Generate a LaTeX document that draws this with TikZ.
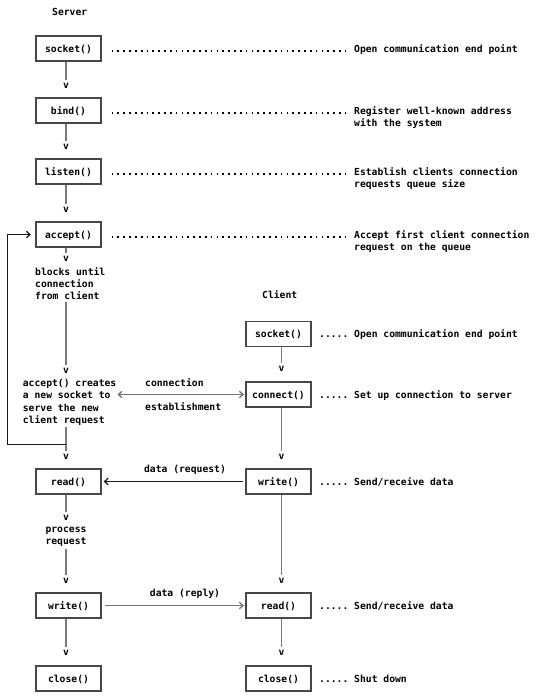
\documentclass[tikz,border=0pt]{standalone}
\usepackage{fontspec}
\setmonofont{DejaVu Sans Mono}
\usetikzlibrary{arrows.meta,calc}
\newcommand\diagfont{\ttfamily\bfseries\fontsize{9.7}{12.3}\selectfont}
\begin{document}
\begin{tikzpicture}[x=1pt,y=-1pt,
  box/.style={draw=black!72,line width=1.3pt,minimum width=65pt,minimum height=25pt,inner sep=0pt,font=\diagfont,text height=7pt,text depth=0pt},
  txt/.style={inner sep=0pt,font=\diagfont,text height=7pt,text depth=0pt},
  mtxt/.style={inner sep=0pt,font=\diagfont,align=left},
  vmark/.style={inner sep=0pt,font=\diagfont},
  flow/.style={draw=black!52,line width=1.7pt,shorten >=3pt},
  leader/.style={draw=black,line width=1.7pt,line cap=butt,dash pattern=on 1.7pt off 4.13pt},
  barb/.tip={Straight Barb[length=3.5pt,width=6.5pt,line width=1.3pt]},
  loopln/.style={draw=black!90,line width=1pt},
  grayln/.style={draw=black!55,line width=1.3pt},
]
\fill[white] (0,0) rectangle (536,699);
\useasboundingbox (0,0) rectangle (536,699);

% ---------------- Server column ----------------
\node[txt,anchor=west] (srvlbl) at (52,12) {Server};
\node[box] (s1) at (68.5,48.5) {socket()};
\node[vmark] (sv1) at (66,86) {v};
\node[box] (s2) at (68.5,110.5) {bind()};
\node[vmark] (sv2) at (66,147) {v};
\node[box] (s3) at (68.5,171.5) {listen()};
\node[vmark] (sv3) at (66,210) {v};
\node[box] (s4) at (68.5,234.5) {accept()};
\node[vmark] (sv4) at (66,259) {v};
\node[mtxt,anchor=north west] (blk) at (35,267) {blocks until\\connection\\from client};
\node[vmark] (sv5) at (66,371) {v};
\node[mtxt,anchor=north west] (crt) at (22.7,379) {accept() creates\\a new socket to\\serve the new\\client request};
\node[vmark] (sv6) at (66,457) {v};
\node[box] (s5) at (68.5,481.5) {read()};
\node[vmark] (sv7) at (66,518) {v};
\node[mtxt,anchor=north,align=center] (prc) at (66,527) {process\\request};
\node[vmark] (sv8) at (66,581) {v};
\node[box] (s6) at (68.5,605.5) {write()};
\node[vmark] (sv9) at (66,653) {v};
\node[box] (s7) at (68.5,678.5) {close()};

% server descriptions
\node[txt,anchor=west] (d1) at (354,48.5) {Open communication end point};
\node[mtxt,anchor=north west] (d2) at (354,106.6) {Register well-known address\\with the system};
\node[mtxt,anchor=north west] (d3) at (354,167.6) {Establish clients connection\\requests queue size};
\node[mtxt,anchor=north west] (d4) at (354,230.6) {Accept first client connection\\request on the queue};

% ---------------- Client column ----------------
\node[txt,anchor=west] (clilbl) at (262,295) {Client};
\node[box] (c1) at (278.5,334) {socket()};
\node[vmark] (cv1) at (281.5,369) {v};
\node[box] (c2) at (278.5,394.5) {connect()};
\node[vmark] (cv2) at (281.5,457) {v};
\node[box] (c3) at (278.5,481.5) {write()};
\node[vmark] (cv3) at (281.5,581) {v};
\node[box] (c4) at (278.5,605.5) {read()};
\node[vmark] (cv4) at (281.5,653) {v};
\node[box] (c5) at (278.5,678.5) {close()};

% client descriptions
\node[txt,anchor=west] (e1) at (319,334) {..... Open communication end point};
\node[txt,anchor=west] (e2) at (319,394.5) {..... Set up connection to server};
\node[txt,anchor=west] (e3) at (319,481.5) {..... Send/receive data};
\node[txt,anchor=west] (e4) at (319,605.5) {..... Send/receive data};
\node[txt,anchor=west] (e5) at (319,678.5) {..... Shut down};

% message labels
\node[txt,anchor=west] (conlbl) at (145,382.5) {connection};
\node[txt,anchor=west] (estlbl) at (145,407) {establishment};
\node[txt] (reqlbl) at (185,468.5) {data (request)};
\node[txt] (replbl) at (185,592.5) {data (reply)};

% ---------------- vertical flow lines ----------------
\draw[flow] (s1.south -| sv1) -- (sv1);
\draw[flow] (s2.south -| sv2) -- (sv2);
\draw[flow] (s3.south -| sv3) -- (sv3);
\draw[flow] (s4.south -| sv4) -- (sv4);
\draw[flow,shorten <=2pt] (blk.south -| sv5) -- (sv5);
\draw[flow,shorten <=1pt] (crt.south -| sv6) -- (sv6);
\draw[flow] (s5.south -| sv7) -- (sv7);
\draw[flow,shorten <=2pt] (prc.south -| sv8) -- (sv8);
\draw[flow] (s6.south -| sv9) -- (sv9);

\draw[flow] (c1.south -| cv1) -- (cv1);
\draw[flow] (c2.south -| cv2) -- (cv2);
\draw[flow] (c3.south -| cv3) -- (cv3);
\draw[flow] (c4.south -| cv4) -- (cv4);

% loop back to accept()
\coordinate (lj) at (66,444);
\coordinate (lx) at (7.3,444);
\draw[loopln,-barb,shorten >=4.5pt] (lj) -- (lx) |- (s4.west);

% ---------------- dotted leaders ----------------
\draw[leader] ($(s1.east)+(10,2.5)$) -- ($(s1.east -| d1.west)+(-8,2.5)$);
\draw[leader] ($(s2.east)+(10,2.5)$) -- ($(s2.east -| d2.west)+(-8,2.5)$);
\draw[leader] ($(s3.east)+(10,2.5)$) -- ($(s3.east -| d3.west)+(-8,2.5)$);
\draw[leader] ($(s4.east)+(10,2.5)$) -- ($(s4.east -| d4.west)+(-8,2.5)$);

% ---------------- messages ----------------
\draw[grayln,barb-barb,shorten <=1pt,shorten >=1.5pt] (crt.east |- c2.west) -- (c2.west);
\draw[loopln,-barb,shorten <=2.5pt,shorten >=2pt] (c3.west) -- (s5.east);
\draw[grayln,-barb,shorten <=3pt,shorten >=1.5pt] (s6.east) -- (c4.west);
\end{tikzpicture}
\end{document}
